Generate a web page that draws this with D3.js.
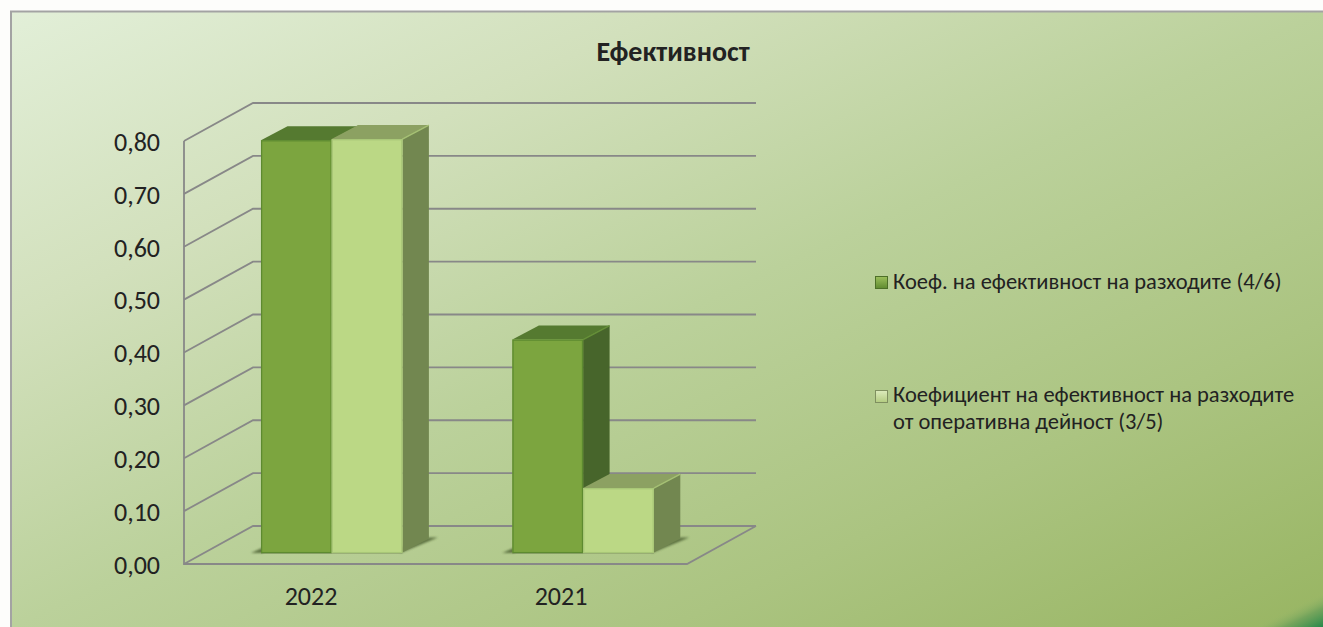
<!DOCTYPE html>
<html><head><meta charset="utf-8">
<script src="https://cdn.jsdelivr.net/npm/d3@7"></script>
<style>html,body{margin:0;padding:0;background:#fdfdfb}svg{display:block}text{font-family:Carlito,Calibri,Lato,"Open Sans",sans-serif;fill:#222}</style>
</head><body><svg id="c" width="1323" height="627"></svg>
<script>
const categories = ["2022", "2021"];
const seriesNames = [["Коеф. на ефективност на разходите (4/6)"], ["Коефициент на ефективност на разходите", "от оперативна дейност (3/5)"]];
const series1 = [0.78, 0.403];
const series2 = [0.782, 0.122];
const yTicks = [0, 0.1, 0.2, 0.3, 0.4, 0.5, 0.6, 0.7, 0.8];
const title = "Ефективност";
const frontFill = ["#7ca53f", "#bbd885"], topFill = ["#557a30", "#8ca162"], sideFill = ["#47652b", "#728750"];

const svg = d3.select("#c"), W = 1323, H = 627;
const defs = svg.append("defs");
const bg = defs.append("linearGradient").attr("id","bg").attr("gradientUnits","userSpaceOnUse")
  .attr("x1",10).attr("y1",11).attr("x2",484).attr("y2",1021);
[[0,"#e2efd8"],[0.25,"#d2e0bc"],[0.5,"#bbd19b"],[0.75,"#abc481"],[1,"#98b562"]].forEach(s=>bg.append("stop").attr("offset",s[0]).attr("stop-color",s[1]));
const corner = defs.append("linearGradient").attr("id","corner").attr("gradientUnits","userSpaceOnUse")
  .attr("x1",1309).attr("y1",599).attr("x2",1323).attr("y2",627);
[[0,"#9bb96a",0],[0.45,"#6ba05a",.8],[1,"#25884a",1]].forEach(s=>corner.append("stop").attr("offset",s[0]).attr("stop-color",s[1]).attr("stop-opacity",s[2]));
const sh = defs.append("filter").attr("id","sh").attr("x","-30%").attr("y","-100%").attr("width","160%").attr("height","300%");
sh.append("feGaussianBlur").attr("stdDeviation",1.2);
const line = d3.line();

svg.append("rect").attr("x",11).attr("y",11.5).attr("width",W).attr("height",H).attr("fill","url(#bg)").attr("stroke","#a3a3a3").attr("stroke-width",2);
svg.append("path").attr("fill","url(#corner)").attr("d",line([[1253,627],[1323,592],[1323,627]])+"Z");

// 3-D frame
const xFront = d3.scaleLinear().domain([0,1]).range([184,687]);
const y = d3.scaleLinear().domain([0,0.8]).range([564,141]);
const depthX = 69, depthY = 38;
const grid = svg.append("g").attr("fill","none").attr("stroke","#888888").attr("stroke-width",1.8);
yTicks.forEach(t=>{
  grid.append("path").attr("d",line([[xFront(0),y(t)],[xFront(0)+depthX,y(t)-depthY],[xFront(1)+depthX,y(t)-depthY]]));
});
grid.append("path").attr("d",line([[xFront(0),y(0.8)],[xFront(0),y(0)],[xFront(1),y(0)],[xFront(1)+depthX,y(0)-depthY]]));

// Y axis
const yAxis = d3.axisLeft(y).tickValues(yTicks).tickSize(0).tickPadding(0).tickFormat(d=>d3.format(".2f")(d).replace(".",","));
const ya = svg.append("g").attr("transform","translate(160,1)").call(yAxis);
ya.select(".domain").remove();
ya.selectAll("text").attr("font-size",26);

// bars
const barW = 70.7, bdx = 26.5, bdy = 14, base = 552.6, pxPerUnit = (y(0)-y(0.8))/0.8;
const by = v => base - v*pxPerUnit;
const cx = d3.scalePoint().domain(categories).range([261,512.4]);
const bars = [];
categories.forEach((c,i)=>{ [series1,series2].forEach((s,k)=>bars.push({c,k,v:s[i]})); });
const gB = svg.append("g");
bars.filter(b=>b.k===1).forEach(b=>{
  const x1 = cx(b.c)+2*barW;
  gB.append("path").attr("filter","url(#sh)").attr("fill","#4f6436").attr("opacity",.85)
    .attr("d",line([[x1-2,base+.5],[x1+bdx+9,base-15],[x1+bdx,base-15],[x1,base-6]])+"Z");
  gB.append("path").attr("filter","url(#sh)").attr("fill","#4f6436").attr("opacity",.85)
    .attr("d",line([[cx(b.c)+2,base+.5],[cx(b.c)-10,base+.5],[cx(b.c)+2,base-5]])+"Z");
  gB.append("path").attr("fill","none").attr("stroke","#7f8f66").attr("stroke-width",1)
    .attr("d",line([[cx(b.c),base+.5],[x1,base+.5]]));
});
bars.forEach(b=>{
  const x0 = cx(b.c)+b.k*barW, x1 = x0+barW, top = by(b.v);
  const g = gB.append("g");
  g.append("path").attr("fill",sideFill[b.k]).attr("d",line([[x1,top],[x1+bdx,top-bdy],[x1+bdx,base-bdy],[x1,base]])+"Z");
  g.append("path").attr("fill",topFill[b.k]).attr("d",line([[x0,top],[x0+bdx,top-bdy],[x1+bdx,top-bdy],[x1,top]])+"Z");
  g.append("path").attr("fill","none").attr("stroke",b.k===0?"#658f38":"#a5c074").attr("stroke-width",1.4)
    .attr("d",line([[x1,top],[x1+bdx,top-bdy]]));
  g.append("rect").attr("x",x0).attr("y",top).attr("width",barW).attr("height",base-top).attr("fill",frontFill[b.k]);
  g.append("rect").attr("x",x0+.6).attr("y",top+.6).attr("width",barW-1.2).attr("height",base-top-.6).attr("fill","none")
    .attr("stroke",b.k===0?"#5d8a30":"#a8c777").attr("stroke-width",1.3);
});

// category labels
const xLab = d3.scalePoint().domain(categories).range([311,561]);
svg.append("g").selectAll("text").data(categories).join("text")
  .attr("x",d=>xLab(d)).attr("y",605).attr("text-anchor","middle").attr("font-size",26).text(d=>d);
svg.append("text").attr("x",673).attr("y",61).attr("text-anchor","middle").attr("font-size",28).attr("font-weight",700).text(title);

// legend
const lg = svg.append("g");
const lgY = [276, 390], lgBase = [289, 402];
seriesNames.forEach((lines,i)=>{
  const grad = defs.append("linearGradient").attr("id","lg"+i).attr("x1",0).attr("y1",0).attr("x2",0).attr("y2",1);
  grad.append("stop").attr("offset",0).attr("stop-color",i?"#dcebbd":"#9cc05c");
  grad.append("stop").attr("offset",1).attr("stop-color",i?"#b3cb80":"#5f8a30");
  lg.append("rect").attr("x",875.5).attr("y",lgY[i]+.5).attr("width",12).attr("height",12).attr("fill","url(#lg"+i+")").attr("stroke",i?"#7f8f60":"#4d6f28").attr("stroke-width",1);
  lines.forEach((t,j)=>{
    lg.append("text").attr("x",893).attr("y",lgBase[i]+j*27).attr("font-size",22.5).text(t);
  });
});
</script></body></html>
